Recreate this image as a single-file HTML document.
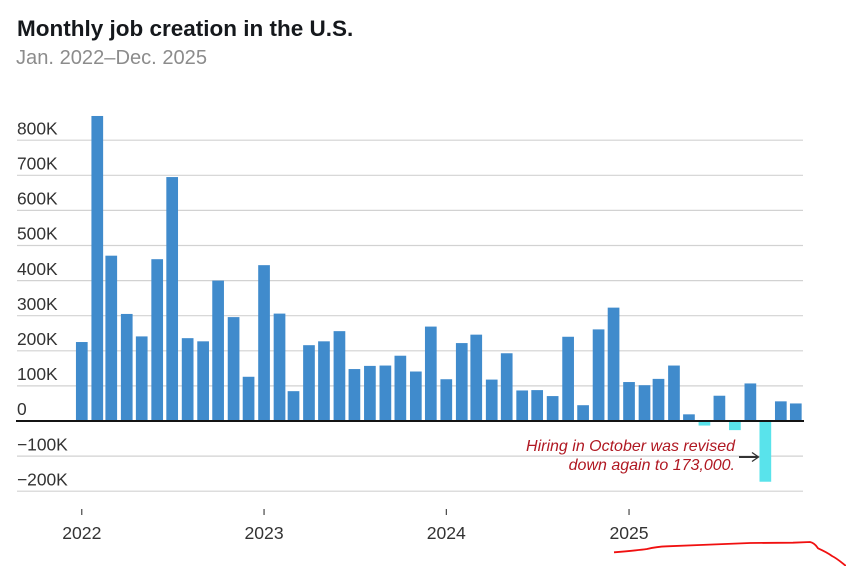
<!DOCTYPE html>
<html lang="en">
<head>
<meta charset="utf-8">
<title>Monthly job creation in the U.S.</title>
<style>
html,body{margin:0;padding:0;background:#fff;}
body{width:846px;height:566px;overflow:hidden;position:relative;font-family:"Liberation Sans",sans-serif;}
#chart-title{position:absolute;left:17px;top:15px;margin:0;font-size:22.5px;line-height:28px;font-weight:700;color:#15181c;white-space:nowrap;}
#chart-subtitle{position:absolute;left:16px;top:46px;margin:0;font-size:20.1px;line-height:24px;font-weight:400;color:#8c8c8c;white-space:nowrap;}
svg{position:absolute;left:0;top:0;}
text{font-family:"Liberation Sans",sans-serif;}
</style>
</head>
<body>
<h1 id="chart-title">Monthly job creation in the U.S.</h1>
<p id="chart-subtitle">Jan. 2022–Dec. 2025</p>
<svg id="chart" width="846" height="566" viewBox="0 0 846 566">
  <g id="grid"></g>
  <g id="y-labels"></g>
  <g id="bars"></g>
  <g id="x-axis"></g>
  <g id="zero"></g>
  <g>
    <text x="735" y="451" text-anchor="end" font-size="16" font-style="italic" fill="#b01822" stroke="#fff" stroke-width="2.5" paint-order="stroke">Hiring in October was revised</text>
    <text x="735" y="470" text-anchor="end" font-size="16" font-style="italic" fill="#b01822" stroke="#fff" stroke-width="2.5" paint-order="stroke">down again to 173,000.</text>
    <path d="M739 457H758" fill="none" stroke="#333" stroke-width="2"></path>
    <path d="M752 452.5L758.5 457L752 461.5" fill="none" stroke="#333" stroke-width="1.3"></path>
  </g>
  <path d="M614 552.3C630 551 640 550 647 549 C655 547 660 546.5 667 546.3L700 545 750 543 793 542.7 810 542C815 543 817 547 818 548.3 824 551 828 553 832 556 838 559 842 563 846 566" fill="none" stroke="#f01010" stroke-width="1.8"></path>
</svg>
<script>
const monthlyJobs = [225,869,471,305,241,461,695,236,227,400,296,126,444,306,85,216,227,256,148,157,158,186,141,269,119,222,246,118,193,87,88,71,240,45,261,323,111,102,120,158,19,-13,72,-26,107,-173,56,50];
const yTicks = [800,700,600,500,400,300,200,100,0,-100,-200];
const yTickLabels = ["800K","700K","600K","500K","400K","300K","200K","100K","0","−100K","−200K"];
const yearLabels = ["2022","2023","2024","2025"];
const yearStartIndex = [0,12,24,36];

const SVGNS = "http://www.w3.org/2000/svg";
const zeroY = 421, pxPerUnit = 35.1 / 100;
const firstCenter = 81.8, pxPerDay = 0.4993, barWidth = 11.7;
const MS_PER_DAY = 86400000;
function yScale(v){ return zeroY - v * pxPerUnit; }
/* Time scale: months are spaced by their real length in days */
function xScale(i){
  const days = (Date.UTC(2022, i, 1) - Date.UTC(2022, 0, 1)) / MS_PER_DAY;
  return firstCenter + days * pxPerDay;
}
function make(tag, attrs){
  const el = document.createElementNS(SVGNS, tag);
  for (const k in attrs) el.setAttribute(k, attrs[k]);
  return el;
}

const grid = document.getElementById("grid");
const yLabels = document.getElementById("y-labels");
yTicks.forEach(function(t, i){
  const y = yScale(t);
  if (t !== 0) {
    const line = make("line", {x1:17, x2:803, y1:y, y2:y, stroke:"#d2d2d2", "stroke-width":1.2});
    
    
    grid.appendChild(line);
  }
  const label = make("text", {x:17, y:y-5.8, "font-size":17.4, fill:"#333"});
  
  
  label.textContent = yTickLabels[i];
  yLabels.appendChild(label);
});

const bars = document.getElementById("bars");
monthlyJobs.forEach(function(v, i){
  const y0 = yScale(0), y1 = yScale(v);
  const rect = make("rect", {
    x: xScale(i) - barWidth / 2,
    y: Math.min(y0, y1),
    width: barWidth,
    height: Math.abs(y1 - y0),
    fill: v < 0 ? "#59e3eb" : "#408bcc"
  });
  
  
  bars.appendChild(rect);
});

const xAxis = document.getElementById("x-axis");
yearLabels.forEach(function(label, i){
  const x = xScale(yearStartIndex[i]);
  const tick = make("line", {x1:x, x2:x, y1:509, y2:515, stroke:"#222", "stroke-width":1});
  
  
  xAxis.appendChild(tick);
  const text = make("text", {x:x, y:539, "text-anchor":"middle", "font-size":17.6, fill:"#333"});
  
  
  text.textContent = label;
  xAxis.appendChild(text);
});

const zero = document.getElementById("zero");
const zeroLine = make("line", {x1:16, x2:804, y1:yScale(0), y2:yScale(0), stroke:"#141414", "stroke-width":2});


zero.appendChild(zeroLine);
</script>
</body>
</html>
